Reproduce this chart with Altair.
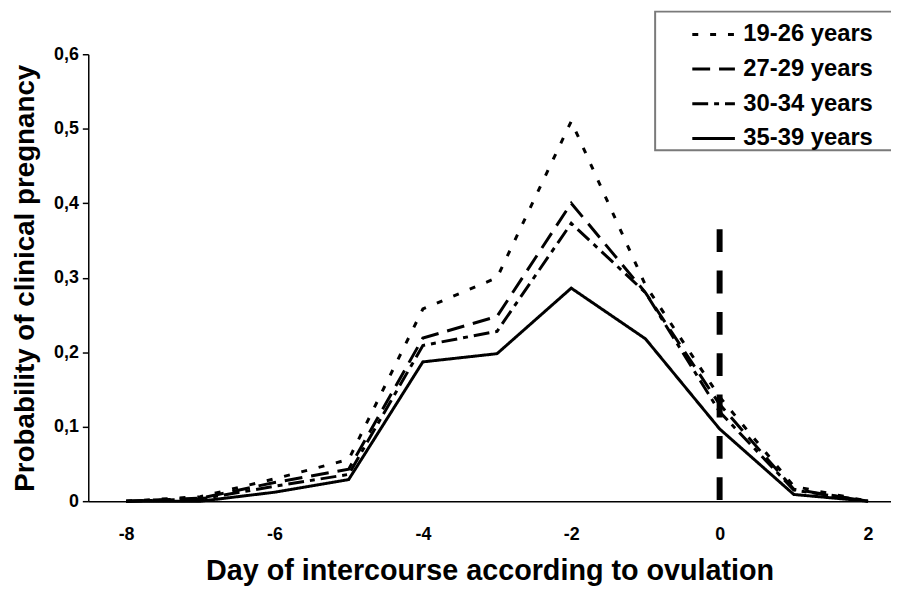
import altair as alt
import pandas as pd

days = [-8, -7, -6, -5, -4, -3, -2, -1, 0, 1, 2]
groups = ["19-26 years", "27-29 years", "30-34 years", "35-39 years"]
p_19_26 = [0, 0.006, 0.030, 0.056, 0.258, 0.300, 0.510, 0.290, 0.140, 0.020, 0]
p_27_29 = [0, 0.004, 0.025, 0.043, 0.219, 0.248, 0.400, 0.280, 0.130, 0.016, 0]
p_30_34 = [0, 0.003, 0.020, 0.036, 0.209, 0.228, 0.373, 0.280, 0.120, 0.015, 0]
p_35_39 = [0, 0.000, 0.012, 0.029, 0.187, 0.198, 0.286, 0.218, 0.097, 0.009, 0]
ovulation_day = [0]
ovulation_top = [0.365]
ovulation_bottom = [0]

series = [p_19_26, p_27_29, p_30_34, p_35_39]
rows = []
for g, vals in zip(groups, series):
    for d, v in zip(days, vals):
        rows.append({"day": d, "p": v, "group": g})
df = pd.DataFrame(rows)
df_ov = pd.DataFrame({"day": ovulation_day, "p": ovulation_top, "p0": ovulation_bottom})

FONT = "Liberation Sans"
dashes = [[6, 12], [18, 9], [16, 6, 5, 6], [1, 0]]

x_enc = alt.X(
    "day:Q",
    scale=alt.Scale(domain=[-8.51, 2.31], nice=False, zero=False),
    axis=alt.Axis(
        values=[-8, -6, -4, -2, 0, 2],
        ticks=False,
        grid=False,
        labelPadding=25,
        titlePadding=13,
        labelFontSize=18,
        titleFontSize=29,
        labelExpr="datum.value < 0 ? '-' + abs(datum.value) : '' + datum.value",
    ),
    title="Day of intercourse according to ovulation",
)
y_enc = alt.Y(
    "p:Q",
    scale=alt.Scale(domain=[0, 0.6], nice=False),
    axis=alt.Axis(
        values=[0, 0.1, 0.2, 0.3, 0.4, 0.5, 0.6],
        grid=False,
        tickSize=6,
        labelPadding=4,
        labelFontSize=18,
        titleFontSize=28,
        titlePadding=14,
        labelExpr="datum.value == 0 ? '0' : replace(format(datum.value, '.1f'), '.', ',')",
    ),
    title="Probability of clinical pregnancy",
)

lines = alt.Chart(df).mark_line(color="black", strokeWidth=3).encode(
    x=x_enc,
    y=y_enc,
    strokeDash=alt.StrokeDash(
        "group:N",
        scale=alt.Scale(domain=groups, range=dashes),
        legend=alt.Legend(
            title="MMMMMM",
            titleOrient="right",
            titleColor="white",
            titleOpacity=0,
            titleFont=FONT,
            titleFontSize=22,
            orient="none",
            legendX=572,
            legendY=-43,
            symbolType="stroke",
            symbolSize=1849,
            symbolStrokeWidth=3,
            symbolStrokeColor="black",
            symbolOffset=36,
            labelFontSize=24,
            labelFontWeight="bold",
            labelFont=FONT,
            labelOffset=7,
            labelColor="black",
            labelLimit=400,
            rowPadding=0,
            padding=0,
            fillColor="white",
            strokeColor="#7a7a7a",
        ),
    ),
)

rule = alt.Chart(df_ov).mark_rule(
    color="black", strokeWidth=6, strokeDash=[23, 18.7]
).encode(
    x=alt.X("day:Q"),
    y=alt.Y("p:Q"),
    y2="p0:Q",
)

chart = (
    alt.layer(lines, rule)
    .properties(
        width=810,
        height=451,
        autosize=alt.AutoSizeParams(type="none"),
        padding={"left": 81, "top": 44, "right": 0, "bottom": 90},
    )
    .configure_view(stroke=None)
    .configure_legend(strokeWidth=2)
    .configure_axis(
        labelFont=FONT,
        titleFont=FONT,
        labelFontWeight="bold",
        titleFontWeight="bold",
        labelColor="black",
        titleColor="black",
        domainColor="black",
        domainWidth=1.5,
        tickColor="black",
        tickWidth=1.5,
    )
)

chart.save("out.html", embed_options={"renderer": "svg", "actions": False})
